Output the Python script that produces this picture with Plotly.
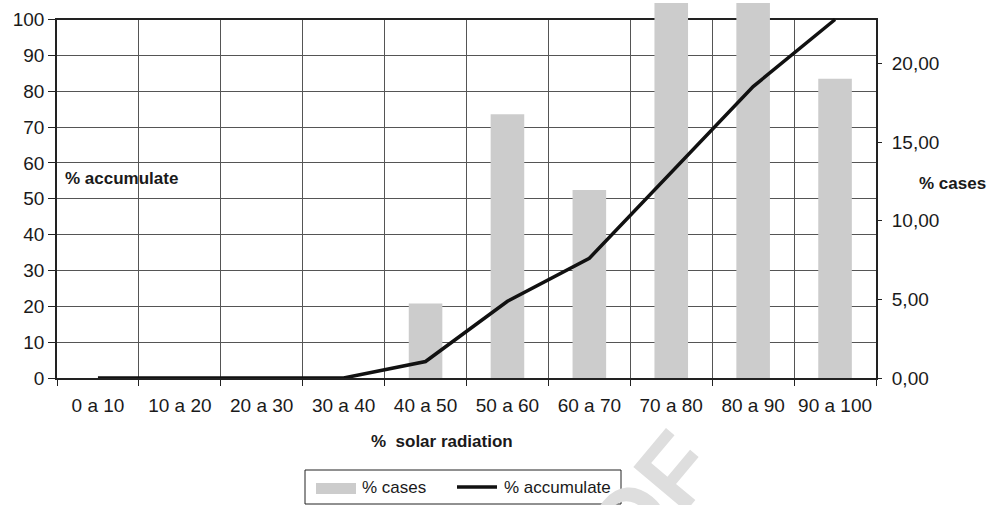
import plotly.graph_objects as go

# Class intervals of solar radiation (%)
categories = ["0 a 10", "10 a 20", "20 a 30", "30 a 40", "40 a 50",
              "50 a 60", "60 a 70", "70 a 80", "80 a 90", "90 a 100"]
# Share of cases per interval (right axis, %)
cases = [0, 0, 0, 0, 4.74, 16.76, 11.95, 23.84, 23.84, 19.03]
# Accumulated share of cases (left axis, %)
accumulate = [0, 0, 0, 0, 4.6, 21.4, 33.4, 57.3, 81.3, 100]

left_ticks = [0, 10, 20, 30, 40, 50, 60, 70, 80, 90, 100]
right_ticks = [0, 5, 10, 15, 20]
left_max = 100
right_max = 22.79

FONT = "Liberation Sans, Arial, Helvetica, sans-serif"
INK = "#1a1a1a"
GRID = "#555555"
BAR = "#cccccc"

# Page geometry (pixels) of the plotting area
W, H = 1000, 505
PL, PR, PT, PB = 57, 876, 0, 378
FRAME_TOP = 19.5


def px_x(px):
    return (px - PL) / (PR - PL)


def px_y(py):
    return (PB - py) / (PB - PT)


frame = px_y(FRAME_TOP)

fig = go.Figure()

# Framed grid subplot (carries the category axis and the left scale)
fig.add_trace(go.Scatter(x=categories, y=[None] * len(categories),
                         xaxis="x", yaxis="y", mode="lines",
                         showlegend=False, hoverinfo="skip"))

# Bars on a taller layer so that tall bars may rise above the frame
fig.add_trace(go.Bar(x=categories, y=cases, xaxis="x2", yaxis="y2",
                     name="% cases", marker=dict(color=BAR, line_width=0),
                     showlegend=False))

fig.add_trace(go.Scatter(x=categories, y=accumulate, xaxis="x2", yaxis="y3",
                         mode="lines", name="% accumulate",
                         line=dict(color="#111111", width=3.5),
                         showlegend=False))

cat_axis = dict(type="category", categoryorder="array",
                categoryarray=categories, range=[-0.5, len(categories) - 0.5],
                automargin=False)

fig.update_layout(
    width=W, height=H,
    margin=dict(l=PL, r=W - PR, t=PT, b=H - PB, pad=0, autoexpand=False),
    paper_bgcolor="white",
    plot_bgcolor="rgba(0,0,0,0)",
    separators=",.",
    font=dict(family=FONT, color=INK, size=19),
    bargap=0.59,
    xaxis=dict(**cat_axis, domain=[0, 1], anchor="y",
               tickson="boundaries", ticks="outside", ticklen=6,
               tickcolor="#222222", tickwidth=1, tickangle=0,
               ticklabelstandoff=9,
               showgrid=True, gridcolor=GRID, gridwidth=1,
               showline=True, mirror=True, linecolor="#222222", linewidth=1.5,
               tickfont=dict(size=19, color=INK, family=FONT)),
    yaxis=dict(domain=[0, frame], anchor="x", range=[0, left_max],
               automargin=False,
               tickvals=left_ticks, ticks="outside", ticklen=7,
               tickcolor="#222222", tickwidth=1,
               showgrid=True, gridcolor=GRID, gridwidth=1, zeroline=False,
               showline=True, mirror=True, linecolor="#222222", linewidth=1.5,
               tickfont=dict(size=19, color=INK, family=FONT)),
    xaxis2=dict(**cat_axis, domain=[0, 1], anchor="y2", visible=False),
    yaxis2=dict(domain=[0, 1], anchor="x2", side="right",
                range=[0, right_max / frame], automargin=False,
                tickvals=right_ticks, tickformat=".2f",
                ticks="outside", ticklen=5, tickcolor="#222222",
                showgrid=False, showline=False, zeroline=False,
                ticklabelstandoff=6,
                tickfont=dict(size=19, color=INK, family=FONT)),
    yaxis3=dict(overlaying="y2", anchor="x2", range=[0, left_max / frame],
                automargin=False, visible=False),
)

bold = dict(family=FONT, size=17, color=INK, weight="bold")
plain = dict(family=FONT, size=17, color=INK)

annotations = [
    dict(text="% accumulate", x=px_x(62.7), y=px_y(178), xanchor="left",
         yanchor="middle", font=bold),
    dict(text="% cases", x=px_x(917), y=px_y(183.5), xanchor="left",
         yanchor="middle", font=bold),
    dict(text="%\u00a0 solar radiation", x=px_x(441.5), y=px_y(441),
         xanchor="center", yanchor="middle", font=bold),
    # legend entries
    dict(text="% cases", x=px_x(360), y=px_y(487), xanchor="left",
         yanchor="middle", font=plain),
    dict(text="% accumulate", x=px_x(501.5), y=px_y(487), xanchor="left",
         yanchor="middle", font=plain),
    # faint proof watermark
    dict(text="PROOF", x=px_x(580), y=px_y(583), xanchor="center",
         yanchor="middle", textangle=-50,
         font=dict(family=FONT, size=100, color="#dedede", weight="bold")),
]
for a in annotations:
    a.update(xref="paper", yref="paper", showarrow=False)

shapes = [
    # legend frame and keys
    dict(type="rect", x0=px_x(305), x1=px_x(621), y0=px_y(504), y1=px_y(470),
         line=dict(color="#222222", width=1), fillcolor="rgba(0,0,0,0)"),
    dict(type="rect", x0=px_x(316), x1=px_x(356), y0=px_y(494), y1=px_y(483),
         line=dict(width=0), fillcolor=BAR),
    dict(type="line", x0=px_x(457), x1=px_x(497), y0=px_y(487), y1=px_y(487),
         line=dict(color="#111111", width=3.5)),
]
for s in shapes:
    s.update(xref="paper", yref="paper")

fig.update_layout(annotations=annotations, shapes=shapes)

fig.write_html("out.html")
